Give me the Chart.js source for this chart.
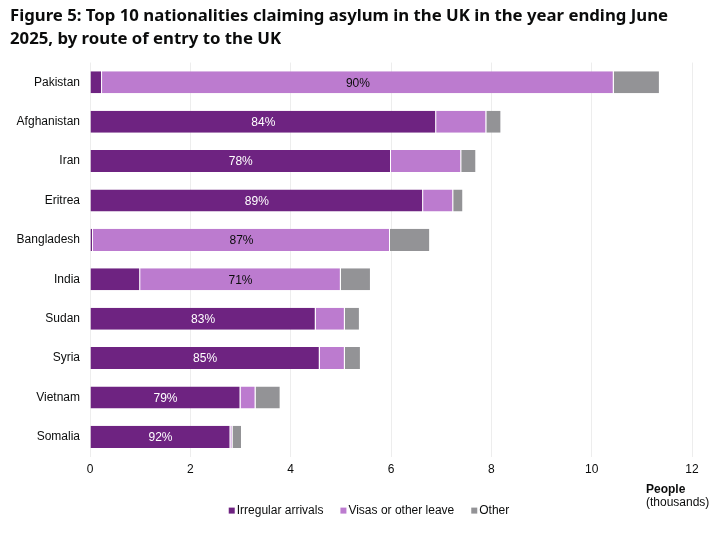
<!DOCTYPE html>
<html>
<head>
<meta charset="utf-8">
<script src="https://cdn.jsdelivr.net/npm/chart.js@4"></script>
<style>
  html, body { margin: 0; padding: 0; background: #fff; }
  #wrap { width: 726px; height: 537px; position: relative; }
</style>
</head>
<body>
<div id="wrap"><canvas id="asylumChart"></canvas></div>
<script>
// Figure 5: asylum claims by nationality and route of entry (thousands)
const countries = ["Pakistan", "Afghanistan", "Iran", "Eritrea", "Bangladesh", "India", "Sudan", "Syria", "Vietnam", "Somalia"];
const irregular = [0.24, 6.90, 6.00, 6.64, 0.06, 1.00, 4.50, 4.58, 3.00, 2.80];
const visas = [10.20, 1.00, 1.40, 0.60, 5.92, 4.00, 0.58, 0.50, 0.30, 0.04];
const other = [0.92, 0.30, 0.30, 0.20, 0.80, 0.60, 0.30, 0.32, 0.50, 0.19];
// share of the main route, shown inside the bar, and which series it belongs to
const shareLabels = ["90%", "84%", "78%", "89%", "87%", "71%", "83%", "85%", "79%", "92%"];
const shareSeries = [1, 0, 0, 0, 1, 1, 0, 0, 0, 0];
const xTicks = [0, 2, 4, 6, 8, 10, 12];

const colors = {
  irregular: "#6e2381",
  visas: "#bc7bcf",
  other: "#939396",
  text: "#0b0c0c",
  grid: "#ededed"
};
const FONT = "Liberation Sans, Arial, sans-serif";
const tickFont = { family: FONT, size: 12 };

// percentage labels inside the bars
const shareLabelPlugin = {
  id: "shareLabels",
  afterDatasetsDraw(chart) {
    const ctx = chart.ctx;
    ctx.save();
    ctx.font = "12px " + FONT;
    ctx.textAlign = "center";
    ctx.textBaseline = "middle";
    shareLabels.forEach((txt, i) => {
      const s = shareSeries[i];
      const bar = chart.getDatasetMeta(s).data[i];
      const x = (bar.base + bar.x) / 2;
      ctx.fillStyle = s === 0 ? "#ffffff" : colors.text;
      ctx.fillText(txt, x, bar.y + 1);
    });
    ctx.restore();
  }
};

// two-line axis title under the right end of the x axis, plus the legend row
const footerPlugin = {
  id: "footer",
  afterDraw(chart) {
    const ctx = chart.ctx;
    const xs = chart.scales.x;
    const bottom = chart.chartArea.bottom;
    ctx.save();
    ctx.fillStyle = colors.text;
    ctx.textAlign = "left";
    ctx.textBaseline = "middle";
    ctx.font = "bold 12px " + FONT;
    ctx.fillText("People", xs.right - 46, bottom + 33);
    ctx.font = "12px " + FONT;
    ctx.fillText("(thousands)", xs.right - 46, bottom + 46);

    // legend, centred a little right of the canvas middle like the original
    const items = chart.data.datasets.map(d => ({ label: d.label, color: d.backgroundColor }));
    const box = 6, gap = 2, spacing = 17;
    const widths = items.map(it => box + gap + ctx.measureText(it.label).width);
    const total = widths.reduce((a, b) => a + b, 0) + spacing * (items.length - 1);
    let x = 369 - total / 2;
    const y = bottom + 54;
    items.forEach((it, i) => {
      ctx.fillStyle = it.color;
      ctx.fillRect(x, y - box / 2, box, box);
      ctx.fillStyle = colors.text;
      ctx.fillText(it.label, x + box + gap, y);
      x += widths[i] + spacing;
    });
    ctx.restore();
  }
};

const ds = (label, data, color) => ({
  label, data,
  backgroundColor: color,
  borderColor: "#ffffff",
  borderWidth: { left: 0, right: 1, top: 0, bottom: 0 },
  borderSkipped: false,
  categoryPercentage: 1,
  barPercentage: 0.56
});

new Chart(document.getElementById("asylumChart"), {
  type: "bar",
  data: {
    labels: countries,
    datasets: [
      ds("Irregular arrivals", irregular, colors.irregular),
      ds("Visas or other leave", visas, colors.visas),
      ds("Other", other, colors.other)
    ]
  },
  options: {
    indexAxis: "y",
    responsive: true,
    maintainAspectRatio: false,
    animation: false,
    layout: { padding: { left: 10, right: 34, top: 5, bottom: 54 } },
    plugins: {
      title: {
        display: true,
        text: ["Figure 5: Top 10 nationalities claiming asylum in the UK in the year ending June", "2025, by route of entry to the UK"],
        align: "start",
        color: colors.text,
        font: { family: "Noto Sans, sans-serif", size: 16.75, weight: "bold", lineHeight: 1.36 },
        padding: { top: 0, bottom: 12 }
      },
      legend: { display: false },
      tooltip: { enabled: false }
    },
    scales: {
      x: {
        stacked: true,
        min: 0,
        max: 12,
        afterBuildTicks(scale) { scale.ticks = xTicks.map(v => ({ value: v })); },
        ticks: { color: colors.text, font: tickFont, padding: 6 },
        grid: { color: colors.grid, drawTicks: false },
        border: { display: false }
      },
      y: {
        stacked: true,
        afterFit(scale) { scale.width = 80; },
        ticks: { color: colors.text, font: tickFont, padding: 2 },
        grid: { display: false },
        border: { display: false }
      }
    }
  },
  plugins: [shareLabelPlugin, footerPlugin]
});
</script>
</body>
</html>
